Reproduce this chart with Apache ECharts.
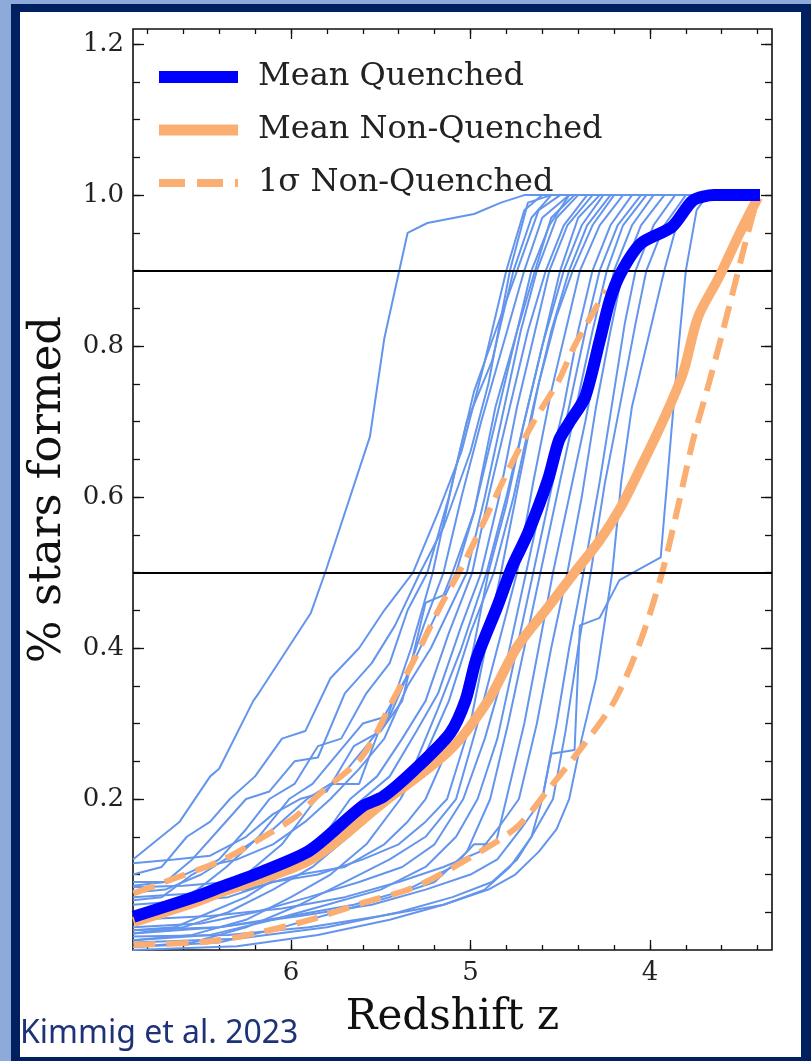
<!DOCTYPE html>
<html>
<head>
<meta charset="utf-8">
<script src="https://cdn.jsdelivr.net/npm/echarts@6/dist/echarts.min.js"></script>
<style>
html,body{margin:0;padding:0;width:811px;height:1061px;overflow:hidden;background:#8eaadb;}
#frame{position:absolute;left:11px;top:4px;width:800px;height:1057px;background:#002060;}
#inner{position:absolute;left:20px;top:12px;width:781px;height:1045px;background:#ffffff;}
#chart{position:absolute;left:0;top:0;width:811px;height:1061px;}
</style>
</head>
<body>
<div id="frame"></div>
<div id="inner"></div>
<div id="chart"></div>
<script>
// ---- data (redshift z, fraction of stars formed) ----
const meanQuenched = [[6.877,0.044],[6.526,0.071],[6.384,0.084],[6.18,0.102],[5.894,0.132],[5.604,0.19],[5.487,0.203],[5.315,0.238],[5.114,0.287],[5.027,0.331],[4.969,0.384],[4.852,0.454],[4.769,0.507],[4.68,0.552],[4.568,0.623],[4.507,0.675],[4.451,0.698],[4.362,0.732],[4.279,0.808],[4.223,0.861],[4.162,0.897],[4.05,0.936],[3.877,0.958],[3.76,0.993],[3.643,1.0],[3.387,1.0]];
const meanNonQuenched = [[6.877,0.037],[6.526,0.064],[6.384,0.077],[5.894,0.119],[5.487,0.195],[5.114,0.265],[4.9,0.331],[4.741,0.401],[4.568,0.454],[4.423,0.499],[4.279,0.543],[4.162,0.587],[4.05,0.64],[3.933,0.698],[3.816,0.764],[3.733,0.838],[3.616,0.891],[3.499,0.95],[3.398,0.997]];
const sigmaUpper = [[6.877,0.075],[6.67,0.093],[6.384,0.119],[6.18,0.146],[5.978,0.176],[5.835,0.208],[5.604,0.256],[5.432,0.331],[5.315,0.384],[5.17,0.454],[5.027,0.517],[4.886,0.587],[4.797,0.632],[4.652,0.698],[4.507,0.755],[4.423,0.799],[4.245,0.874]];
const sigmaLower = [[6.877,0.007],[6.468,0.011],[6.18,0.023],[5.894,0.04],[5.604,0.062],[5.315,0.083],[5.027,0.119],[4.741,0.163],[4.568,0.212],[4.362,0.274],[4.195,0.331],[4.05,0.411],[3.933,0.499],[3.844,0.587],[3.76,0.675],[3.671,0.751],[3.599,0.815],[3.526,0.883],[3.454,0.95],[3.415,0.984]];

// individual quenched galaxies (thin lines)
const gal00 = [[6.88,0.12],[6.62,0.17],[6.45,0.23],[6.40,0.24],[6.21,0.33],[6.18,0.34],[5.89,0.446],[5.805,0.503],[5.56,0.68],[5.48,0.81],[5.35,0.95],[5.24,0.963],[4.98,0.975],[4.83,0.99],[4.70,1.0],[3.40,1.0]];
const gal01 = [[6.88,0.10],[6.72,0.11],[6.58,0.15],[6.45,0.17],[6.34,0.20],[6.20,0.23],[6.05,0.28],[5.92,0.29],[5.78,0.36],[5.62,0.40],[5.48,0.45],[5.32,0.50],[5.18,0.58],[5.05,0.66],[4.92,0.78],[4.80,0.90],[4.70,0.98],[4.60,1.0],[3.40,1.0]];
const gal02 = [[6.88,0.085],[6.70,0.09],[6.55,0.12],[6.40,0.16],[6.25,0.20],[6.12,0.21],[5.98,0.25],[5.85,0.255],[5.70,0.34],[5.55,0.38],[5.42,0.43],[5.28,0.50],[5.15,0.56],[5.00,0.66],[4.90,0.75],[4.78,0.90],[4.68,0.99],[4.55,1.0],[3.40,1.0]];
const gal03 = [[6.88,0.066],[6.72,0.07],[6.55,0.10],[6.40,0.12],[6.25,0.16],[6.12,0.20],[5.98,0.22],[5.85,0.27],[5.72,0.28],[5.58,0.34],[5.45,0.38],[5.35,0.45],[5.24,0.50],[5.12,0.60],[5.02,0.70],[4.88,0.78],[4.76,0.90],[4.66,0.97],[4.55,1.0],[3.40,1.0]];
const gal04 = [[6.88,0.049],[6.70,0.06],[6.52,0.08],[6.36,0.11],[6.18,0.15],[6.01,0.20],[5.88,0.22],[5.74,0.26],[5.60,0.30],[5.46,0.31],[5.33,0.40],[5.21,0.50],[5.10,0.62],[4.98,0.74],[4.86,0.82],[4.74,0.90],[4.62,0.98],[4.50,1.0],[3.40,1.0]];
const gal05 = [[6.88,0.076],[6.70,0.08],[6.50,0.10],[6.30,0.13],[6.10,0.16],[5.91,0.20],[5.78,0.22],[5.62,0.22],[5.48,0.31],[5.36,0.36],[5.26,0.43],[5.15,0.50],[5.05,0.60],[4.94,0.70],[4.82,0.80],[4.70,0.90],[4.60,0.97],[4.45,1.0],[3.40,1.0]];
const gal06 = [[6.88,0.04],[6.65,0.05],[6.45,0.07],[6.25,0.10],[6.05,0.14],[5.86,0.20],[5.72,0.23],[5.58,0.27],[5.45,0.31],[5.32,0.38],[5.20,0.44],[5.08,0.50],[4.98,0.58],[4.88,0.68],[4.76,0.80],[4.66,0.90],[4.56,0.96],[4.45,1.0],[3.40,1.0]];
const gal07 = [[6.88,0.09],[6.68,0.09],[6.50,0.11],[6.30,0.12],[6.10,0.14],[5.92,0.17],[5.78,0.20],[5.62,0.24],[5.48,0.28],[5.35,0.35],[5.22,0.40],[5.12,0.45],[5.02,0.50],[4.92,0.60],[4.82,0.71],[4.72,0.82],[4.63,0.90],[4.52,0.97],[4.40,1.0],[3.40,1.0]];
const gal08 = [[6.88,0.026],[6.65,0.03],[6.45,0.05],[6.25,0.07],[6.05,0.10],[5.85,0.14],[5.67,0.20],[5.52,0.23],[5.38,0.28],[5.25,0.33],[5.12,0.42],[4.99,0.50],[4.90,0.60],[4.80,0.70],[4.68,0.82],[4.58,0.90],[4.48,0.96],[4.35,1.0],[3.40,1.0]];
const gal09 = [[6.88,0.083],[6.60,0.085],[6.35,0.09],[6.15,0.11],[5.95,0.13],[5.78,0.16],[5.60,0.20],[5.45,0.23],[5.30,0.29],[5.18,0.34],[5.05,0.43],[4.94,0.50],[4.84,0.60],[4.74,0.72],[4.64,0.82],[4.56,0.90],[4.46,0.96],[4.32,1.0],[3.40,1.0]];
const gal10 = [[6.88,0.022],[6.60,0.03],[6.35,0.05],[6.10,0.08],[5.88,0.11],[5.68,0.15],[5.47,0.20],[5.32,0.24],[5.18,0.32],[5.05,0.40],[4.91,0.50],[4.80,0.60],[4.70,0.70],[4.60,0.80],[4.50,0.90],[4.40,0.97],[4.28,1.0],[3.40,1.0]];
const gal11 = [[6.88,0.013],[6.55,0.02],[6.25,0.04],[6.00,0.07],[5.78,0.10],[5.58,0.14],[5.39,0.20],[5.25,0.26],[5.12,0.33],[5.00,0.42],[4.87,0.50],[4.76,0.60],[4.65,0.72],[4.55,0.82],[4.45,0.90],[4.35,0.96],[4.22,1.0],[3.40,1.0]];
const gal12 = [[6.88,0.06],[6.60,0.065],[6.35,0.07],[6.10,0.09],[5.85,0.10],[5.60,0.12],[5.40,0.14],[5.25,0.17],[5.13,0.20],[5.00,0.30],[4.90,0.42],[4.83,0.50],[4.73,0.62],[4.62,0.75],[4.52,0.84],[4.43,0.90],[4.32,0.96],[4.20,1.0],[3.40,1.0]];
const gal13 = [[6.88,0.004],[6.55,0.01],[6.25,0.03],[5.95,0.06],[5.70,0.09],[5.45,0.12],[5.25,0.15],[5.08,0.20],[4.96,0.30],[4.85,0.40],[4.74,0.50],[4.65,0.62],[4.55,0.74],[4.46,0.83],[4.39,0.90],[4.28,0.96],[4.15,1.0],[3.40,1.0]];
const gal14 = [[6.88,0.03],[6.50,0.035],[6.20,0.05],[5.90,0.07],[5.62,0.09],[5.38,0.11],[5.20,0.14],[5.04,0.20],[4.92,0.28],[4.80,0.38],[4.69,0.50],[4.58,0.62],[4.48,0.72],[4.40,0.82],[4.32,0.90],[4.22,0.96],[4.10,1.0],[3.40,1.0]];
const gal15 = [[6.88,0.013],[6.45,0.02],[6.10,0.04],[5.80,0.06],[5.50,0.08],[5.25,0.11],[5.08,0.15],[4.96,0.20],[4.85,0.28],[4.75,0.39],[4.65,0.50],[4.55,0.61],[4.45,0.72],[4.36,0.82],[4.28,0.90],[4.18,0.96],[4.05,1.0],[3.40,1.0]];
const gal16 = [[6.88,0.004],[6.40,0.01],[6.05,0.03],[5.75,0.05],[5.45,0.07],[5.20,0.09],[5.02,0.13],[4.89,0.20],[4.79,0.30],[4.70,0.40],[4.61,0.50],[4.52,0.60],[4.42,0.71],[4.32,0.82],[4.24,0.90],[4.15,0.96],[4.02,1.0],[3.40,1.0]];
const gal17 = [[6.88,0.026],[6.40,0.03],[6.00,0.045],[5.65,0.06],[5.35,0.08],[5.10,0.11],[4.98,0.14],[4.86,0.14],[4.80,0.20],[4.70,0.30],[4.62,0.40],[4.54,0.50],[4.45,0.60],[4.36,0.70],[4.28,0.80],[4.20,0.90],[4.10,0.96],[3.98,1.0],[3.40,1.0]];
const gal18 = [[6.88,0.04],[6.45,0.045],[6.05,0.055],[5.70,0.07],[5.40,0.09],[5.15,0.11],[4.95,0.13],[4.85,0.16],[4.73,0.20],[4.63,0.30],[4.55,0.40],[4.46,0.50],[4.38,0.60],[4.30,0.72],[4.22,0.82],[4.15,0.90],[4.05,0.96],[3.92,1.0],[3.40,1.0]];
const gal19 = [[6.88,0.022],[6.40,0.03],[5.95,0.045],[5.55,0.06],[5.25,0.08],[5.00,0.10],[4.85,0.12],[4.72,0.16],[4.60,0.20],[4.52,0.30],[4.45,0.40],[4.37,0.50],[4.28,0.62],[4.20,0.74],[4.14,0.83],[4.08,0.90],[3.98,0.96],[3.86,1.0],[3.40,1.0]];
const gal20 = [[6.88,0.0],[6.30,0.005],[5.85,0.02],[5.45,0.04],[5.15,0.06],[4.92,0.08],[4.78,0.11],[4.66,0.15],[4.54,0.20],[4.47,0.29],[4.40,0.40],[4.33,0.50],[4.25,0.62],[4.16,0.73],[4.08,0.83],[4.02,0.90],[3.92,0.96],[3.80,1.0],[3.40,1.0]];
const gal21 = [[6.88,0.01],[6.30,0.015],[5.80,0.03],[5.40,0.05],[5.10,0.07],[4.88,0.09],[4.74,0.12],[4.66,0.15],[4.60,0.20],[4.55,0.26],[4.42,0.265],[4.39,0.43],[4.28,0.44],[4.17,0.49],[3.94,0.52],[3.89,0.66],[3.84,0.80],[3.80,0.90],[3.74,0.98],[3.68,1.0],[3.40,1.0]];
const gal22 = [[6.88,0.018],[6.35,0.02],[5.90,0.03],[5.50,0.045],[5.15,0.06],[4.90,0.08],[4.75,0.10],[4.62,0.13],[4.52,0.16],[4.45,0.20],[4.38,0.28],[4.30,0.36],[4.21,0.50],[4.16,0.62],[4.10,0.72],[4.00,0.82],[3.92,0.90],[3.84,0.97],[3.74,1.0],[3.40,1.0]];
const gal23 = [[6.88,0.115],[6.65,0.12],[6.45,0.125],[6.25,0.15],[6.10,0.18],[5.95,0.20],[5.80,0.21],[5.65,0.27],[5.50,0.29],[5.38,0.33],[5.25,0.46],[5.15,0.47],[5.10,0.50],[4.98,0.58],[4.86,0.72],[4.74,0.82],[4.64,0.90],[4.55,0.97],[4.42,1.0],[3.40,1.0]];
const gal24 = [[6.88,0.07],[6.55,0.075],[6.25,0.08],[5.95,0.10],[5.70,0.11],[5.48,0.14],[5.35,0.17],[5.25,0.20],[5.12,0.27],[5.00,0.38],[4.90,0.50],[4.80,0.59],[4.70,0.70],[4.60,0.80],[4.48,0.90],[4.38,0.96],[4.26,1.0],[3.40,1.0]];
const galaxies = [gal00,gal01,gal02,gal03,gal04,gal05,gal06,gal07,gal08,gal09,gal10,gal11,gal12,gal13,gal14,gal15,gal16,gal17,gal18,gal19,gal20,gal21,gal22,gal23,gal24];

const thresholds = [0.5, 0.9];
const xMajorTicks = [4, 5, 6];
const xMinorTicks = [3.4,3.6,3.8,4.0,4.2,4.4,4.6,4.8,5.0,5.2,5.4,5.6,5.8,6.0,6.2,6.4,6.6,6.8];
const yMajorTicks = [0.2, 0.4, 0.6, 0.8, 1.0, 1.2];
const yMinorTicks = [0.05,0.1,0.15,0.2,0.25,0.3,0.35,0.4,0.45,0.5,0.55,0.6,0.65,0.7,0.75,0.8,0.85,0.9,0.95,1.0,1.05,1.1,1.15,1.2];
const legendNames = ['Mean Quenched', 'Mean Non-Quenched', '1σ Non-Quenched'];
const xTitle = 'Redshift z';
const yTitle = '% stars formed';
const creditText = 'Kimmig et al. 2023';

// ---- styling ----
const SERIF = '"DejaVu Serif", serif';
const BLUE = '#0000ff';
const ORANGE = '#fbae72';
const THIN = '#6495ed';
const X_MIN = 3.32, X_MAX = 6.88, Y_MIN = 0, Y_MAX = 1.22;

function xAxisDef(pos, ticks, len, withLabel) {
  return {
    type: 'value', position: pos, min: X_MIN, max: X_MAX, inverse: true, gridIndex: 0,
    axisLine: { show: false, onZero: false },
    splitLine: { show: false },
    axisTick: { show: true, inside: true, length: len, customValues: ticks, lineStyle: { color: '#111', width: 1.3 } },
    axisLabel: withLabel ? { show: true, customValues: ticks, margin: 10, fontFamily: SERIF, fontSize: 26, color: '#222',
      formatter: v => String(Math.round(v)) } : { show: false },
    name: withLabel ? xTitle : '', nameLocation: 'middle', nameGap: 47,
    nameTextStyle: { fontFamily: SERIF, fontSize: 42, color: '#111' }
  };
}
function yAxisDef(pos, ticks, len, withLabel) {
  return {
    type: 'value', position: pos, min: Y_MIN, max: Y_MAX, gridIndex: 0,
    axisLine: { show: false, onZero: false },
    splitLine: { show: false },
    axisTick: { show: true, inside: true, length: len, customValues: ticks, lineStyle: { color: '#111', width: 1.3 } },
    axisLabel: withLabel ? { show: true, customValues: ticks, margin: 9, fontFamily: SERIF, fontSize: 26, color: '#222',
      formatter: v => v.toFixed(1) } : { show: false },
    name: withLabel ? yTitle : '', nameLocation: 'middle', nameGap: 62, nameRotate: 90,
    nameTextStyle: { fontFamily: SERIF, fontSize: 45, color: '#111' }
  };
}

const series = [];
galaxies.forEach((g, i) => {
  series.push({
    name: 'galaxy ' + (i + 1), type: 'line', data: g, xAxisIndex: 0, yAxisIndex: 0,
    symbol: 'none', showSymbol: false, z: 2, silent: true,
    lineStyle: { color: THIN, width: 2 }
  });
});
series.push({
  name: 'thresholds', type: 'line', data: [], xAxisIndex: 0, yAxisIndex: 0, z: 3, silent: true,
  markLine: { silent: true, symbol: 'none', label: { show: false },
    lineStyle: { color: '#000', width: 2, type: 'solid' },
    data: thresholds.map(t => ({ yAxis: t })) }
});
series.push({ name: legendNames[2], type: 'line', data: sigmaUpper, symbol: 'none', z: 4, silent: true, smooth: 0.3,
  lineStyle: { color: ORANGE, width: 6, type: [22, 11] }, itemStyle: { color: ORANGE } });
series.push({ name: legendNames[2], type: 'line', data: sigmaLower, symbol: 'none', z: 4, silent: true, smooth: 0.3,
  lineStyle: { color: ORANGE, width: 6, type: [22, 11] }, itemStyle: { color: ORANGE } });
series.push({ name: legendNames[1], type: 'line', data: meanNonQuenched, symbol: 'none', z: 5, silent: true, smooth: 0.3,
  lineStyle: { color: ORANGE, width: 10, join: 'round' }, itemStyle: { color: ORANGE } });
series.push({ name: legendNames[0], type: 'line', data: meanQuenched, symbol: 'none', z: 6, silent: true, smooth: 0.25,
  lineStyle: { color: BLUE, width: 12, join: 'round' }, itemStyle: { color: BLUE } });

const chart = echarts.init(document.getElementById('chart'), null, { renderer: 'canvas' });
chart.setOption({
  animation: false,
  backgroundColor: 'transparent',
  grid: { left: 133, top: 29, width: 639, height: 921, show: true, borderColor: '#111', borderWidth: 1.6, backgroundColor: 'transparent', containLabel: false },
  xAxis: [
    xAxisDef('bottom', xMajorTicks, 10, true),
    xAxisDef('bottom', xMinorTicks, 5, false),
    xAxisDef('top', xMajorTicks, 10, false),
    xAxisDef('top', xMinorTicks, 5, false)
  ],
  yAxis: [
    yAxisDef('left', yMajorTicks, 11, true),
    yAxisDef('left', yMinorTicks, 7, false),
    yAxisDef('right', yMajorTicks, 11, false),
    yAxisDef('right', yMinorTicks, 7, false)
  ],
  legend: {
    orient: 'vertical', left: 153, top: 59, padding: 0, itemWidth: 79, itemHeight: 14, itemGap: 17,
    selectedMode: false,
    textStyle: { fontFamily: SERIF, fontSize: 32, color: '#222', padding: [0, 0, 0, 15], lineHeight: 36 },
    data: [
      { name: legendNames[0], itemStyle: { opacity: 0 }, lineStyle: { color: BLUE, width: 12, type: 'solid' } },
      { name: legendNames[1], itemStyle: { opacity: 0 }, lineStyle: { color: ORANGE, width: 11, type: 'solid' } },
      { name: legendNames[2], itemStyle: { opacity: 0 }, lineStyle: { color: ORANGE, width: 8, type: [26, 12] } }
    ]
  },
  graphic: [{
    type: 'text', left: 20, top: 1018,
    style: { text: creditText, fontFamily: '"Noto Sans", sans-serif', fontSize: 32, fill: '#1e3278' }
  }],
  series: series
});
</script>
</body>
</html>
